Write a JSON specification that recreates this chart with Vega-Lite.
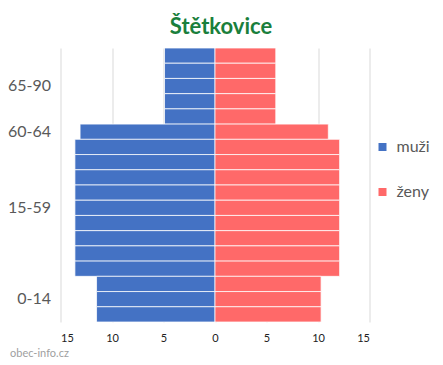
{
  "$schema": "https://vega.github.io/schema/vega-lite/v6.json",
  "width": 309,
  "height": 274,
  "autosize": {"type": "none"},
  "padding": {"left": 60.5, "top": 48, "right": 73.5, "bottom": 43},
  "background": "white",
  "config": {"font": "Lato", "view": {"stroke": null}},
  "title": {
    "text": "Štětkovice",
    "font": "Lato",
    "fontSize": 22,
    "fontWeight": "bold",
    "color": "#1A7F3C",
    "anchor": "middle",
    "offset": 8,
    "dx": 6
  },
  "data": {
    "values": [
      {"row": 1, "group": "65-90", "sex": "muži", "count": 4.9},
      {"row": 1, "group": "65-90", "sex": "ženy", "count": 5.9},
      {"row": 2, "group": "65-90", "sex": "muži", "count": 4.9},
      {"row": 2, "group": "65-90", "sex": "ženy", "count": 5.9},
      {"row": 3, "group": "65-90", "sex": "muži", "count": 4.9},
      {"row": 3, "group": "65-90", "sex": "ženy", "count": 5.9},
      {"row": 4, "group": "65-90", "sex": "muži", "count": 4.9},
      {"row": 4, "group": "65-90", "sex": "ženy", "count": 5.9},
      {"row": 5, "group": "65-90", "sex": "muži", "count": 4.9},
      {"row": 5, "group": "65-90", "sex": "ženy", "count": 5.9},
      {"row": 6, "group": "60-64", "sex": "muži", "count": 13.1},
      {"row": 6, "group": "60-64", "sex": "ženy", "count": 11.0},
      {"row": 7, "group": "15-59", "sex": "muži", "count": 13.6},
      {"row": 7, "group": "15-59", "sex": "ženy", "count": 12.1},
      {"row": 8, "group": "15-59", "sex": "muži", "count": 13.6},
      {"row": 8, "group": "15-59", "sex": "ženy", "count": 12.1},
      {"row": 9, "group": "15-59", "sex": "muži", "count": 13.6},
      {"row": 9, "group": "15-59", "sex": "ženy", "count": 12.1},
      {"row": 10, "group": "15-59", "sex": "muži", "count": 13.6},
      {"row": 10, "group": "15-59", "sex": "ženy", "count": 12.1},
      {"row": 11, "group": "15-59", "sex": "muži", "count": 13.6},
      {"row": 11, "group": "15-59", "sex": "ženy", "count": 12.1},
      {"row": 12, "group": "15-59", "sex": "muži", "count": 13.6},
      {"row": 12, "group": "15-59", "sex": "ženy", "count": 12.1},
      {"row": 13, "group": "15-59", "sex": "muži", "count": 13.6},
      {"row": 13, "group": "15-59", "sex": "ženy", "count": 12.1},
      {"row": 14, "group": "15-59", "sex": "muži", "count": 13.6},
      {"row": 14, "group": "15-59", "sex": "ženy", "count": 12.1},
      {"row": 15, "group": "15-59", "sex": "muži", "count": 13.6},
      {"row": 15, "group": "15-59", "sex": "ženy", "count": 12.1},
      {"row": 16, "group": "0-14", "sex": "muži", "count": 11.5},
      {"row": 16, "group": "0-14", "sex": "ženy", "count": 10.3},
      {"row": 17, "group": "0-14", "sex": "muži", "count": 11.5},
      {"row": 17, "group": "0-14", "sex": "ženy", "count": 10.3},
      {"row": 18, "group": "0-14", "sex": "muži", "count": 11.5},
      {"row": 18, "group": "0-14", "sex": "ženy", "count": 10.3}
    ]
  },
  "transform": [
    {"calculate": "datum.sex === 'muži' ? -datum.count : datum.count", "as": "value"}
  ],
  "mark": {"type": "bar", "stroke": "#ffffff", "strokeWidth": 1, "strokeOpacity": 0.75},
  "encoding": {
    "y": {
      "field": "row",
      "type": "ordinal",
      "sort": "ascending",
      "scale": {"paddingInner": 0, "paddingOuter": 0},
      "axis": {
        "title": null,
        "domain": false,
        "ticks": false,
        "labelPadding": 10,
        "labelFontSize": 16,
        "labelColor": "#595959",
        "labelFont": "Lato",
        "labelExpr": "datum.value == 3 ? '65-90' : datum.value == 6 ? '60-64' : datum.value == 11 ? '15-59' : datum.value == 17 ? '0-14' : ''"
      }
    },
    "x": {
      "field": "value",
      "type": "quantitative",
      "scale": {"domain": [-15, 15], "nice": false, "zero": false},
      "axis": {
        "values": [-15, -10, -5, 0, 5, 10, 15],
        "labelExpr": "abs(datum.value)",
        "domain": false,
        "ticks": false,
        "grid": true,
        "gridColor": "#D9D9D9",
        "gridWidth": 1,
        "labelFontSize": 11,
        "labelColor": "#222222",
        "labelPadding": 10,
        "labelFont": "Lato",
        "title": "obec-info.cz",
        "titleFont": "Lato",
        "titleFontSize": 11,
        "titleFontWeight": "normal",
        "titleColor": "#A0A0A0",
        "titleAnchor": "start",
        "titleAlign": "left",
        "titleBaseline": "alphabetic",
        "titleX": -51,
        "titleY": 34
      }
    },
    "color": {
      "field": "sex",
      "type": "nominal",
      "scale": {"domain": ["muži", "ženy"], "range": ["#4472C4", "#FF6969"]},
      "legend": {
        "title": null,
        "orient": "none",
        "legendX": 314,
        "legendY": 91,
        "symbolType": "square",
        "symbolSize": 64,
        "symbolStrokeWidth": 0,
        "labelFontSize": 16,
        "labelColor": "#595959",
        "labelFont": "Lato",
        "labelOffset": 6,
        "rowPadding": 29
      }
    }
  }
}
